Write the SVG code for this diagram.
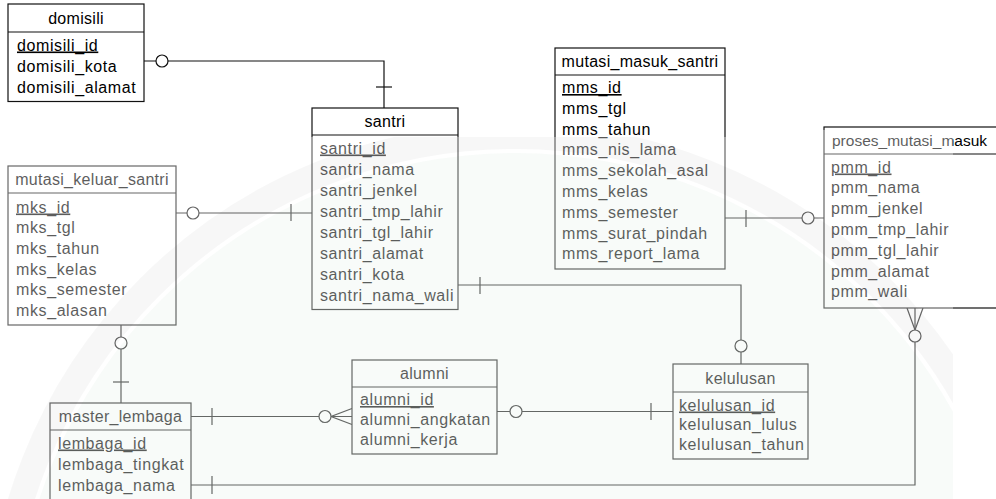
<svg xmlns="http://www.w3.org/2000/svg" width="996" height="499" viewBox="0 0 996 499">
  <style>
    .box { fill: #ffffff; stroke: #111; stroke-width: 1.2; }
    .sep { stroke: #111; stroke-width: 1.2; }
    .t { font-family: "Liberation Sans", Arial, sans-serif; font-size: 16px; letter-spacing: 0.6px; fill: #000; }
    .ttl { letter-spacing: 0.3px; text-anchor: middle; }
    .pk { text-decoration: underline; }
    .ln { fill: none; stroke: #111; stroke-width: 1.2; }
    .o { fill: #ffffff; stroke: #111; stroke-width: 1.2; }
  </style>
  <defs>
    <clipPath id="fadeArea">
      <polygon points="0,137 790,137 790,130 953,130 953,499 0,499"/>
    </clipPath>
  </defs>

  <rect width="996" height="499" fill="#ffffff"/>

  <!-- relationship lines -->
  <g id="connectors">
    <!-- domisili - santri -->
    <polyline class="ln" points="144,61 384,61 384,108"/>
    <line class="ln" x1="376" y1="87" x2="392" y2="87"/>
    <circle class="o" cx="162" cy="61" r="6"/>
    <!-- mutasi_keluar_santri - santri -->
    <line class="ln" x1="176" y1="213" x2="312" y2="213"/>
    <line class="ln" x1="291" y1="204" x2="291" y2="221"/>
    <circle class="o" cx="193" cy="213" r="6"/>
    <!-- mutasi_keluar_santri - master_lembaga -->
    <line class="ln" x1="121" y1="325" x2="121" y2="403"/>
    <line class="ln" x1="113" y1="382" x2="129" y2="382"/>
    <circle class="o" cx="121" cy="343" r="6"/>
    <!-- master_lembaga - alumni -->
    <line class="ln" x1="191" y1="416.5" x2="352" y2="416.5"/>
    <line class="ln" x1="212" y1="408" x2="212" y2="425"/>
    <polyline class="ln" points="352,408.5 331,416.5 352,424.5"/>
    <circle class="o" cx="325" cy="416.5" r="6"/>
    <!-- alumni - kelulusan -->
    <line class="ln" x1="497" y1="411.5" x2="673" y2="411.5"/>
    <line class="ln" x1="651" y1="403" x2="651" y2="420"/>
    <circle class="o" cx="516" cy="411.5" r="6"/>
    <!-- santri - kelulusan -->
    <polyline class="ln" points="458,285 741,285 741,364"/>
    <line class="ln" x1="480" y1="277" x2="480" y2="294"/>
    <circle class="o" cx="741" cy="346" r="6"/>
    <!-- mutasi_masuk_santri - proses_mutasi_masuk -->
    <line class="ln" x1="725" y1="218" x2="824" y2="218"/>
    <line class="ln" x1="746" y1="210" x2="746" y2="227"/>
    <circle class="o" cx="808" cy="218" r="6"/>
    <!-- master_lembaga - proses_mutasi_masuk -->
    <polyline class="ln" points="191,485 915,485 915,308"/>
    <line class="ln" x1="212" y1="476" x2="212" y2="494"/>
    <polyline class="ln" points="907,308 915,330 923,308"/>
    <circle class="o" cx="915" cy="336" r="6"/>
  </g>

  <g id="domisili">
    <rect class="box" x="8" y="4" width="136" height="97.5"/>
    <line class="sep" x1="8" y1="32" x2="144" y2="32"/>
    <text class="t ttl" x="76" y="23.5">domisili</text>
    <text class="t pk" x="17" y="50.5">domisili_id</text>
    <text class="t" x="17" y="71.5">domisili_kota</text>
    <text class="t" x="17" y="92.5">domisili_alamat</text>
  </g>

  <g id="santri">
    <rect class="box" x="312" y="108" width="146" height="201.5"/>
    <line class="sep" x1="312" y1="135" x2="458" y2="135"/>
    <text class="t ttl" x="385" y="127">santri</text>
    <text class="t pk" x="320" y="153.5">santri_id</text>
    <text class="t" x="320" y="174.5">santri_nama</text>
    <text class="t" x="320" y="195.5">santri_jenkel</text>
    <text class="t" x="320" y="216.5">santri_tmp_lahir</text>
    <text class="t" x="320" y="237.5">santri_tgl_lahir</text>
    <text class="t" x="320" y="258.5">santri_alamat</text>
    <text class="t" x="320" y="279.5">santri_kota</text>
    <text class="t" x="320" y="300.5">santri_nama_wali</text>
  </g>

  <g id="mutasi_masuk_santri">
    <rect class="box" x="555" y="48" width="170" height="221"/>
    <line class="sep" x1="555" y1="75" x2="725" y2="75"/>
    <text class="t ttl" x="640" y="67">mutasi_masuk_santri</text>
    <text class="t pk" x="562" y="93">mms_id</text>
    <text class="t" x="562" y="113.8">mms_tgl</text>
    <text class="t" x="562" y="134.6">mms_tahun</text>
    <text class="t" x="562" y="155.4">mms_nis_lama</text>
    <text class="t" x="562" y="176.2">mms_sekolah_asal</text>
    <text class="t" x="562" y="197">mms_kelas</text>
    <text class="t" x="562" y="217.8">mms_semester</text>
    <text class="t" x="562" y="238.6">mms_surat_pindah</text>
    <text class="t" x="562" y="259.4">mms_report_lama</text>
  </g>

  <g id="proses_mutasi_masuk">
    <rect class="box" x="824" y="127" width="190" height="181"/>
    <line class="sep" x1="824" y1="154" x2="1014" y2="154"/>
    <text class="t" x="832" y="145.5" style="letter-spacing:0;font-size:15.5px">proses_mutasi_masuk</text>
    <text class="t pk" x="831" y="172.5">pmm_id</text>
    <text class="t" x="831" y="193.3">pmm_nama</text>
    <text class="t" x="831" y="214.1">pmm_jenkel</text>
    <text class="t" x="831" y="234.9">pmm_tmp_lahir</text>
    <text class="t" x="831" y="255.7">pmm_tgl_lahir</text>
    <text class="t" x="831" y="276.5">pmm_alamat</text>
    <text class="t" x="831" y="297.3">pmm_wali</text>
  </g>

  <g id="mutasi_keluar_santri">
    <rect class="box" x="8" y="166" width="168" height="159"/>
    <line class="sep" x1="8" y1="193" x2="176" y2="193"/>
    <text class="t ttl" x="92" y="185">mutasi_keluar_santri</text>
    <text class="t pk" x="16" y="212.5">mks_id</text>
    <text class="t" x="16" y="233.2">mks_tgl</text>
    <text class="t" x="16" y="253.9">mks_tahun</text>
    <text class="t" x="16" y="274.6">mks_kelas</text>
    <text class="t" x="16" y="295.3">mks_semester</text>
    <text class="t" x="16" y="316">mks_alasan</text>
  </g>

  <g id="master_lembaga">
    <rect class="box" x="50" y="403" width="141" height="110"/>
    <line class="sep" x1="50" y1="430" x2="191" y2="430"/>
    <text class="t ttl" x="120.5" y="422">master_lembaga</text>
    <text class="t pk" x="58" y="448.5">lembaga_id</text>
    <text class="t" x="58" y="469.5">lembaga_tingkat</text>
    <text class="t" x="58" y="490.5">lembaga_nama</text>
  </g>

  <g id="alumni">
    <rect class="box" x="352" y="360" width="145" height="94"/>
    <line class="sep" x1="352" y1="387" x2="497" y2="387"/>
    <text class="t ttl" x="424.5" y="379">alumni</text>
    <text class="t pk" x="360" y="405">alumni_id</text>
    <text class="t" x="360" y="425">alumni_angkatan</text>
    <text class="t" x="360" y="445">alumni_kerja</text>
  </g>

  <g id="kelulusan">
    <rect class="box" x="673" y="364" width="135" height="95"/>
    <line class="sep" x1="673" y1="392" x2="808" y2="392"/>
    <text class="t ttl" x="740.5" y="383.5">kelulusan</text>
    <text class="t pk" x="679" y="410.5">kelulusan_id</text>
    <text class="t" x="679" y="430">kelulusan_lulus</text>
    <text class="t" x="679" y="450">kelulusan_tahun</text>
  </g>

  <!-- faint emblem wash over the lower part of the sheet -->
  <g clip-path="url(#fadeArea)">
    <rect x="0" y="0" width="996" height="499" fill="#ffffff" opacity="0.36"/>
    <circle cx="515" cy="653" r="500" fill="#3a9a60" opacity="0.035"/>
    <circle cx="515" cy="653" r="517" fill="none" stroke="#000" stroke-opacity="0.03" stroke-width="26"/>
  </g>
</svg>
